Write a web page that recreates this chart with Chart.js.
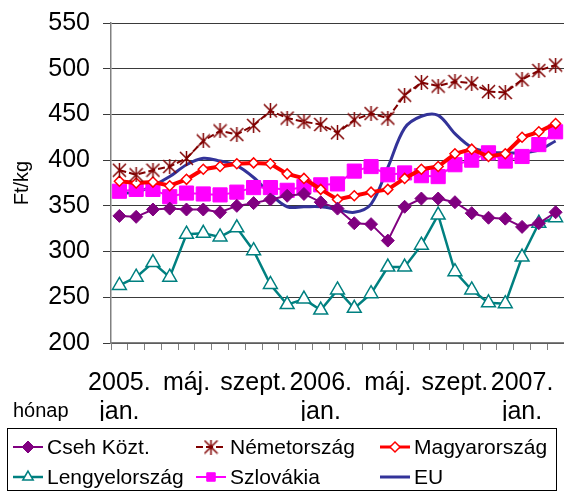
<!DOCTYPE html>
<html>
<head>
<meta charset="utf-8">
<script src="https://cdn.jsdelivr.net/npm/chart.js@4/dist/chart.umd.min.js"></script>
<style>
  html, body { margin: 0; padding: 0; background: #fff; }
  #wrap { width: 564px; height: 491px; }
</style>
</head>
<body>
<div id="wrap"><canvas id="chart" width="564" height="491"></canvas></div>
<script>
const months = [
  '2005. jan.', '2005. febr.', '2005. márc.', '2005. ápr.', '2005. máj.', '2005. jún.',
  '2005. júl.', '2005. aug.', '2005. szept.', '2005. okt.', '2005. nov.', '2005. dec.',
  '2006. jan.', '2006. febr.', '2006. márc.', '2006. ápr.', '2006. máj.', '2006. jún.',
  '2006. júl.', '2006. aug.', '2006. szept.', '2006. okt.', '2006. nov.', '2006. dec.',
  '2007. jan.', '2007. febr.', '2007. márc.'
];
const tickLabels = {
  0: ['2005.', 'jan.'], 4: 'máj.', 8: 'szept.',
  12: ['2006.', 'jan.'], 16: 'máj.', 20: 'szept.',
  24: ['2007.', 'jan.']
};
const yTicks = { min: 200, max: 550, step: 50 };

const cseh = [339, 338, 346, 347, 346, 346, 343, 350, 353, 357, 361, 363, 354, 347, 331, 330, 312, 349, 358, 358, 354, 342, 337, 336, 327, 331, 343];
const nemet = [389, 384, 389, 393, 402, 421, 432, 428, 438, 454, 446, 442, 439, 430, 444, 451, 446, 471, 485, 481, 486, 484, 475, 474, 488, 498, 504];
const magyar = [377, 375, 376, 372, 379, 390, 393, 396, 397, 396, 385, 380, 368, 357, 361, 365, 368, 380, 390, 393, 407, 412, 404, 407, 425, 431, 440];
const lengyel = [263, 272, 288, 272, 319, 320, 316, 326, 301, 264, 242, 248, 236, 258, 238, 254, 283, 283, 307, 340, 278, 258, 244, 243, 294, 331, 337];
const szlovak = [366, 368, 368, 360, 364, 363, 362, 365, 370, 370, 367, 371, 373, 374, 388, 393, 384, 386, 383, 382, 395, 400, 408, 399, 404, 417, 431];
const eu = [364, 365, 372, 382, 395, 402, 399, 394, 381, 363, 349, 349, 349, 346, 343, 352, 392, 435, 448, 449, 429, 414, 409, 408, 408, 411, 421];

const FONT = "'Liberation Sans', Arial, sans-serif";

// asterisk marker like the Excel one: an X with a vertical bar
function makeAsterisk(size, color) {
  const c = document.createElement('canvas');
  c.width = size; c.height = size;
  const g = c.getContext('2d');
  g.strokeStyle = color;
  g.lineWidth = 1.5;
  const m = size / 2, r = size / 2 - 1;
  g.beginPath();
  g.moveTo(m - r, m - r); g.lineTo(m + r, m + r);
  g.moveTo(m + r, m - r); g.lineTo(m - r, m + r);
  g.moveTo(m, 0); g.lineTo(m, size);
  g.stroke();
  return c;
}
const asterisk = makeAsterisk(15, '#800000');

const datasets = [
  { label: 'Cseh Közt.', data: cseh, borderColor: '#800080', backgroundColor: '#800080',
    borderWidth: 2, pointStyle: 'rectRot', pointRadius: 6.5, pointBorderWidth: 1, order: 0 },
  { label: 'Németország', data: nemet, borderColor: '#800000', backgroundColor: '#800000',
    borderWidth: 2, borderDash: [7, 3], pointStyle: asterisk, pointRadius: 7, order: 0 },
  { label: 'Magyarország', data: magyar, borderColor: '#ff0000', backgroundColor: '#ffffff',
    borderWidth: 4, pointStyle: 'rectRot', pointRadius: 5, pointBorderWidth: 1.5, order: 0 },
  { label: 'Lengyelország', data: lengyel, borderColor: '#008080', backgroundColor: '#ffffff',
    borderWidth: 2.5, pointStyle: 'triangle', pointRadius: 8, pointBorderWidth: 1.5, order: 0 },
  { label: 'Szlovákia', data: szlovak, borderColor: '#ff00ff', backgroundColor: '#ff00ff',
    borderWidth: 2, pointStyle: 'rect', pointRadius: 10, pointBorderWidth: 1, order: 0 },
  { label: 'EU', data: eu, borderColor: '#333399', backgroundColor: '#333399',
    borderWidth: 3, pointRadius: 0, tension: 0.35, order: 1 }
];

// Excel style legend in a framed box plus the "hónap" caption
const excelLegend = {
  id: 'excelLegend',
  afterDraw(chart) {
    const ctx = chart.ctx;
    ctx.save();
    ctx.font = '20px ' + FONT;
    ctx.fillStyle = '#000';
    ctx.textBaseline = 'middle';
    ctx.textAlign = 'left';
    ctx.fillText('hónap', 13, 411);

    ctx.strokeStyle = '#000';
    ctx.lineWidth = 1;
    ctx.strokeRect(7.5, 428.5, 549, 62);

    const cols = [13, 196, 380];
    const rows = [447, 477];
    ctx.font = '21px ' + FONT;
    chart.data.datasets.forEach((ds, i) => {
      const x = cols[i % 3], y = rows[Math.floor(i / 3)];
      ctx.save();
      ctx.strokeStyle = ds.borderColor;
      ctx.lineWidth = Math.min(ds.borderWidth, 3);
      if (ds.borderDash) ctx.setLineDash(ds.borderDash);
      ctx.beginPath();
      ctx.moveTo(x, y); ctx.lineTo(x + 30, y);
      ctx.stroke();
      ctx.restore();
      if (ds.pointRadius > 0) {
        ctx.save();
        ctx.fillStyle = ds.backgroundColor;
        ctx.strokeStyle = ds.borderColor;
        ctx.lineWidth = ds.pointBorderWidth || 1;
        Chart.helpers.drawPoint(ctx, {
          pointStyle: ds.pointStyle,
          radius: Math.min(ds.pointRadius, 6),
          borderWidth: ds.pointBorderWidth || 1
        }, x + 15, y);
        ctx.restore();
      }
      ctx.fillStyle = '#000';
      ctx.fillText(ds.label, x + 34, y + 1);
    });
    ctx.restore();
  }
};

new Chart(document.getElementById('chart'), {
  type: 'line',
  data: { labels: months, datasets: datasets },
  options: {
    responsive: false,
    animation: false,
    layout: { autoPadding: false, padding: { top: 23, right: 0, bottom: 70, left: 0 } },
    plugins: { legend: { display: false }, tooltip: { enabled: false } },
    scales: {
      x: {
        offset: true,
        afterFit(scale) { scale.height = 78; scale.paddingLeft = 0; scale.paddingRight = 0; },
        grid: { offset: true, drawOnChartArea: false, tickLength: 7, color: '#808080' },
        border: { color: '#808080', width: 1.5 },
        ticks: {
          autoSkip: false, maxRotation: 0, padding: 19, color: '#000',
          font: { family: FONT, size: 25, lineHeight: 1.16 },
          callback: (v, i) => tickLabels[i] || ''
        }
      },
      y: {
        min: yTicks.min, max: yTicks.max,
        afterFit(scale) { scale.width = 111; scale.paddingTop = 0; scale.paddingBottom = 0; },
        grid: { color: '#3a3a3a', tickLength: 8 },
        border: { color: '#808080', width: 1.5 },
        ticks: { stepSize: yTicks.step, padding: 13, color: '#000', font: { family: FONT, size: 25 } },
        title: { display: true, text: 'Ft/kg', color: '#000', font: { family: FONT, size: 20 }, padding: { top: 10, bottom: 0 } }
      }
    }
  },
  plugins: [excelLegend]
});
</script>
</body>
</html>
